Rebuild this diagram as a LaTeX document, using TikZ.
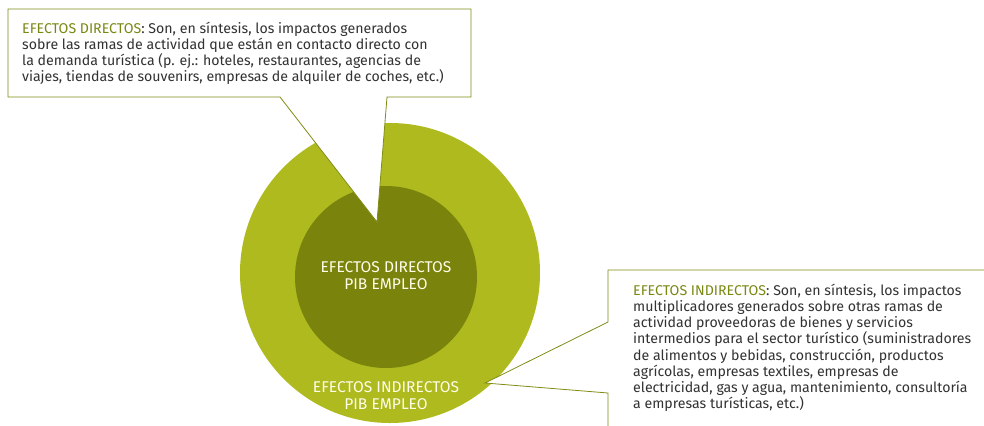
\documentclass[tikz,border=0pt]{standalone}
\usepackage{fontspec}
\setmainfont{Fira Sans}
\definecolor{outerc}{RGB}{174,186,30}
\definecolor{innerc}{RGB}{122,131,11}
\definecolor{linec}{RGB}{128,140,20}
\definecolor{headc}{RGB}{122,136,18}
\definecolor{bodyc}{RGB}{50,50,50}
\tikzset{
  calloutshape/.style={draw=linec, line width=0.8bp, fill=white, line join=miter},
  bodytext/.style={text=bodyc, align=left, inner sep=0pt, anchor=north west, font=\fontsize{14.2}{16.2}\selectfont},
  circtext/.style={text=white!92!yellow, align=center, inner sep=0pt, font=\fontsize{15.6}{17}\selectfont}
}
\begin{document}
\begin{tikzpicture}[x=1bp,y=-1bp]
\useasboundingbox (0,0) rectangle (984,425);
\clip (0,0) rectangle (984,425);
% circles
\fill[outerc] (390,273) circle[radius=150];
\fill[innerc] (386,277) circle[radius=91];
\node[circtext] (dir) at (386,276) {EFECTOS DIRECTOS\\PIB EMPLEO};
\node[circtext] (ind) at (386,396) {EFECTOS INDIRECTOS\\PIB EMPLEO};
% top callout
\draw[calloutshape] (8,9) -- (471,9) -- (471,97) -- (387,97) -- (377,222) -- (280,97) -- (8,97) -- cycle;
\node[bodytext] (toptext) at (22,22) {\textcolor{headc}{EFECTOS DIRECTOS}: Son, en síntesis, los impactos generados\\
sobre las ramas de actividad que están en contacto directo con\\
la demanda turística (p. ej.: hoteles, restaurantes, agencias de\\
viajes, tiendas de souvenirs, empresas de alquiler de coches, etc.)};
% right callout
\draw[calloutshape] (995,270) -- (608,270) -- (608,322) -- (485,383) -- (608,393) -- (608,440) -- (995,440);
\node[bodytext] (righttext) at (633,284) {\textcolor{headc}{EFECTOS INDIRECTOS}: Son, en síntesis, los impactos\\
multiplicadores generados sobre otras ramas de\\
actividad proveedoras de bienes y servicios\\
intermedios para el sector turístico (suministradores\\
de alimentos y bebidas, construcción, productos\\
agrícolas, empresas textiles, empresas de\\
electricidad, gas y agua, mantenimiento, consultoría\\
a empresas turísticas, etc.)};
\end{tikzpicture}
\end{document}
